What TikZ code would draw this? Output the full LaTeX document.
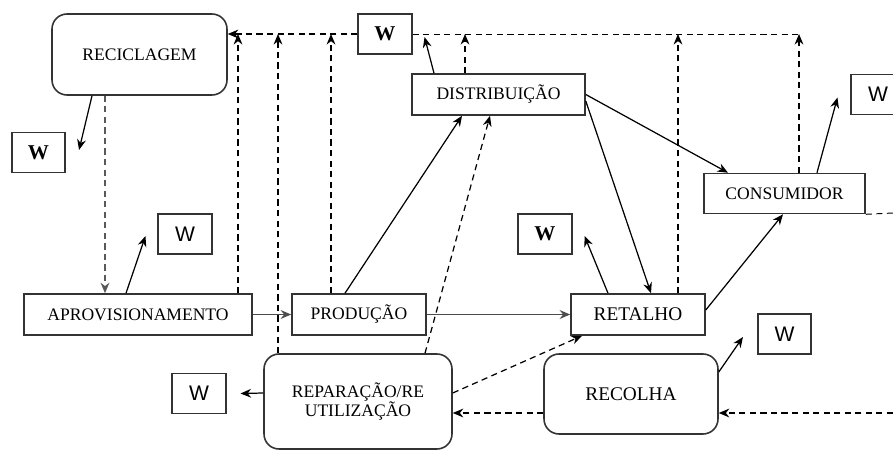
\documentclass[tikz,border=0pt]{standalone}
\usepackage{fontspec}
\setmainfont{Liberation Serif}
\newfontfamily\wsans{Liberation Sans}
\usetikzlibrary{calc,arrows.meta}
\tikzset{
	box/.style={draw=black!80, line width=0.9pt, inner sep=0pt, align=center, font=\fontsize{10}{11}\selectfont},
	rbox/.style={box, rounded corners=0.3cm},
	wbox/.style={draw=black!80, line width=0.9pt, inner sep=0pt, minimum width=1.07cm, minimum height=0.8cm, font=\bfseries\fontsize{12}{14}\selectfont},
	wsbox/.style={wbox, font=\wsans\fontsize{12}{14}\selectfont},
	dline/.style={line width=0.55pt, dash pattern=on 3.5pt off 2.5pt},
	arr/.style={line width=0.7pt, -{Stealth[length=6pt,width=5pt]}},
}

\begin{document}
\begin{tikzpicture}[x=0.02cm, y=-0.02cm]
			%%%%% START %%%%%
			\useasboundingbox (0,0) rectangle (893,450);
			
			\node[rbox, minimum width=3.5cm, minimum height=1.62cm] (reci) at (139.5,54.5) {RECICLAGEM};
			\node[box, minimum width=3.46cm, minimum height=0.82cm] (dist) at (498.5,94.5) {DISTRIBUIÇÃO};
			\node[box, minimum width=3.22cm, minimum height=0.8cm] (cons) at (784.5,193.5) {CONSUMIDOR};
			\node[box, minimum width=4.56cm, minimum height=0.82cm] (aprov) at (138,314.5) {APROVISIONAMENTO};
			\node[box, minimum width=2.68cm, minimum height=0.82cm] (prod) at (359,314.5) {PRODUÇÃO};
			\node[box, minimum width=2.68cm, minimum height=0.82cm] (ret) at (638,314.5) {\fontsize{11}{12}\selectfont RETALHO};
			\node[rbox, minimum width=3.76cm, minimum height=1.9cm] (rep) at (358,401.5) {REPARAÇÃO/RE\\UTILIZAÇÃO};
			\node[rbox, minimum width=3.48cm, minimum height=1.6cm] (rec) at (631,394) {\fontsize{11}{12}\selectfont RECOLHA};
			
			\node[wbox] (w1) at (38.5,152.5) {W};
			\node[wsbox] (w2) at (185,234) {W};
			\node[wsbox] (w3) at (199,393.5) {W};
			\node[wbox] (w4) at (545,234) {W};
			\node[wsbox] (w5) at (784.5,334) {W};
			\node[wbox] (wtop) at (385,34) {W};
			\node[wsbox] (wright) at (878,94.5) {W};
			
			% return line on top
			\coordinate (topend) at (799,34);
			\draw[dline, arr] (wtop.west) -- (reci.east |- wtop.west);
			\draw[dline] (wtop.east) -- (topend);
			\draw[dline, arr] (aprov.north -| 238,0) -- (wtop.west -| 238,0);
			\draw[dline, arr] (rep.north -| 278,0) -- (wtop.west -| 278,0);
			\draw[dline, arr] (prod.north -| 331,0) -- (wtop.west -| 331,0);
			\draw[dline, arr] (dist.north -| 465,0) -- (wtop.west -| 465,0);
			\draw[dline, arr] (ret.north -| 678,0) -- (wtop.west -| 678,0);
			\draw[dline, arr] (cons.north -| topend) -- (topend);
			
			% main flow
			\draw[dline, arr, draw=black!65, line width=0.9pt] (reci.south -| 105,0) -- (aprov.north -| 105,0);
			\draw[arr, draw=black!70, line width=0.9pt] (aprov.east) -- (prod.west);
			\draw[arr, draw=black!70, line width=0.9pt] (prod.east) -- (ret.west);
			\draw[arr] (prod.north -| 345,0) -- (dist.south -| 462,0);
			\draw[dline, arr] (rep.north -| 425,0) -- (dist.south -| 490,0);
			\draw[arr] (dist.east) -- (cons.north -| 728,0);
			\draw[arr] (dist.east |- 0,101) -- (ret.north -| 651,0);
			\draw[arr] (ret.east |- 0,310) -- (cons.south -| 783,0);
			\draw[dline, arr] (rep.east |- 0,393) -- (ret.south -| 582,0);
			\draw[dline, arr] (rec.west |- 0,413) -- (rep.east |- 0,413);
			\coordinate (recin) at (893,413);
			\draw[dline, arr] (recin) -- (rec.east |- recin);
			\coordinate (consout) at (893,213);
			\draw[dline] (cons.south east) -- (consout);
			
			% waste
			\draw[arr] (reci.south -| 92,0) -- ($(w1.east)+(13,-2.5)$);
			\draw[arr] (aprov.north -| 126,0) -- ($(w2.west)+(-12,2)$);
			\draw[arr] (rep.west |- 0,393) -- ($(w3.east)+(14,0)$);
			\draw[arr] (ret.north -| 608,0) -- ($(w4.east)+(12,2)$);
			\draw[arr] (rec.east |- 0,372) -- ($(w5.west)+(-14,3)$);
			\draw[arr] (dist.north -| 434,0) -- ($(wtop.east)+(12,3)$);
			\draw[arr] (cons.north -| 817,0) -- ($(wright.west)+(-13,3)$);
			%%%%% END %%%%%
\end{tikzpicture}
\end{document}
